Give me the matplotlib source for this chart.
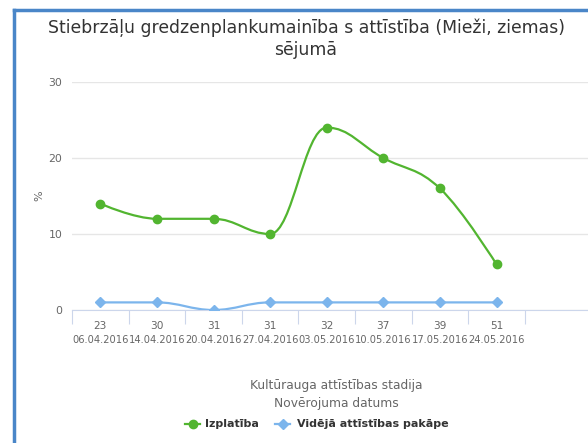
import matplotlib
matplotlib.use("Agg")
import matplotlib.pyplot as plt
from matplotlib.path import Path
from matplotlib.patches import PathPatch
from matplotlib.lines import Line2D

# data
stages = ["23", "30", "31", "31", "32", "37", "39", "51"]
dates = ["06.04.2016", "14.04.2016", "20.04.2016", "27.04.2016",
         "03.05.2016", "10.05.2016", "17.05.2016", "24.05.2016"]
izplatiba = [14, 12, 12, 10, 24, 20, 16, 6]
pakape = [1, 1, 0, 1, 1, 1, 1, 1]

title = "Stiebrzāļu gredzenplankumainība s attīstība (Mieži, ziemas)\nsējumā"
green = "#52b530"
blue = "#7cb5ec"


def spline_path(xs, ys, smoothing=1.5):
    # highcharts-like spline control points
    n = len(xs)
    lc = [(xs[i], ys[i]) for i in range(n)]
    rc = [(xs[i], ys[i]) for i in range(n)]
    d = smoothing + 1
    for i in range(1, n - 1):
        px, py = xs[i], ys[i]
        lx, ly = xs[i - 1], ys[i - 1]
        nx, ny = xs[i + 1], ys[i + 1]
        lcx = (smoothing * px + lx) / d
        lcy = (smoothing * py + ly) / d
        rcx = (smoothing * px + nx) / d
        rcy = (smoothing * py + ny) / d
        corr = 0
        if rcx != lcx:
            corr = (rcy - lcy) * (rcx - px) / (rcx - lcx) + py - rcy
        lcy += corr
        rcy += corr
        if lcy > ly and lcy > py:
            lcy = max(ly, py); rcy = 2 * py - lcy
        elif lcy < ly and lcy < py:
            lcy = min(ly, py); rcy = 2 * py - lcy
        if rcy > ny and rcy > py:
            rcy = max(ny, py); lcy = 2 * py - rcy
        elif rcy < ny and rcy < py:
            rcy = min(ny, py); lcy = 2 * py - rcy
        lc[i] = (lcx, lcy)
        rc[i] = (rcx, rcy)
    verts = [(xs[0], ys[0])]
    codes = [Path.MOVETO]
    for i in range(1, n):
        verts += [rc[i - 1], lc[i], (xs[i], ys[i])]
        codes += [Path.CURVE4] * 3
    return Path(verts, codes)


W, H = 588, 443
fig = plt.figure(figsize=(W / 100, H / 100), dpi=100)
ax = fig.add_axes([72 / W, 1 - 310 / H, 1 - 72 / W, (310 - 82) / H])

xs = list(range(len(stages)))
for vals, col, mk in [(izplatiba, green, "o"), (pakape, blue, "D")]:
    ax.add_patch(PathPatch(spline_path(xs, vals), fill=False, edgecolor=col, lw=1.6, zorder=3))
    ax.plot(xs, vals, ls="none", marker=mk, color=col, ms=6 if mk == "o" else 5, zorder=4)

ax.set_xlim(-0.5, (W - 72) / 56.6 - 0.5)
ax.set_ylim(0, 30)
ax.set_yticks([0, 10, 20, 30])
ax.grid(axis="y", color="#e6e6e6", lw=1)
ax.set_axisbelow(True)
for s in ["top", "right", "left"]:
    ax.spines[s].set_visible(False)
ax.spines["bottom"].set_color("#ccd6eb")
ax.tick_params(axis="y", length=0, labelsize=7.8, labelcolor="#666666", pad=7)

ax.set_xticks([i + 0.5 for i in range(-1, len(stages))])
ax.set_xticklabels([])
ax.tick_params(axis="x", length=10, color="#ccd6eb")
for i in xs:
    ax.text(i, -2.1, stages[i], ha="center", va="center", fontsize=7.6, color="#666666")
    ax.text(i, -4.0, dates[i], ha="center", va="center", fontsize=7.1, color="#666666")

fig.text(39 / W, 1 - 196 / H, "%", rotation=90, ha="center", va="center", fontsize=8, color="#666666")
fig.text(306 / W, 1 - 39 / H, title, ha="center", va="center", fontsize=12.4, color="#333333", linespacing=1.3)
fig.text(336 / W, 1 - 385 / H, "Kultūrauga attīstības stadija", ha="center", va="center", fontsize=8.8, color="#666666")
fig.text(336 / W, 1 - 403 / H, "Novērojuma datums", ha="center", va="center", fontsize=8.8, color="#666666")

# legend
ly = 1 - 424 / H
fig.add_artist(Line2D([185 / W, 200 / W], [ly, ly], color=green, lw=1.6))
fig.add_artist(Line2D([192.5 / W], [ly], color=green, marker="o", ms=6))
fig.text(205 / W, ly, "Izplatība", ha="left", va="center", fontsize=8, fontweight="bold", color="#333333")
fig.add_artist(Line2D([275 / W, 290 / W], [ly, ly], color=blue, lw=1.6))
fig.add_artist(Line2D([282.5 / W], [ly], color=blue, marker="D", ms=5))
fig.text(297 / W, ly, "Vidējā attīstības pakāpe", ha="left", va="center", fontsize=8, fontweight="bold", color="#333333")

# frame border
fig.add_artist(Line2D([14 / W, 14 / W], [0, 1 - 10 / H], color="#4a86c8", lw=2.5))
fig.add_artist(Line2D([14 / W, 1], [1 - 10 / H, 1 - 10 / H], color="#4a86c8", lw=2.5))

fig.savefig("out.png", dpi=100)
